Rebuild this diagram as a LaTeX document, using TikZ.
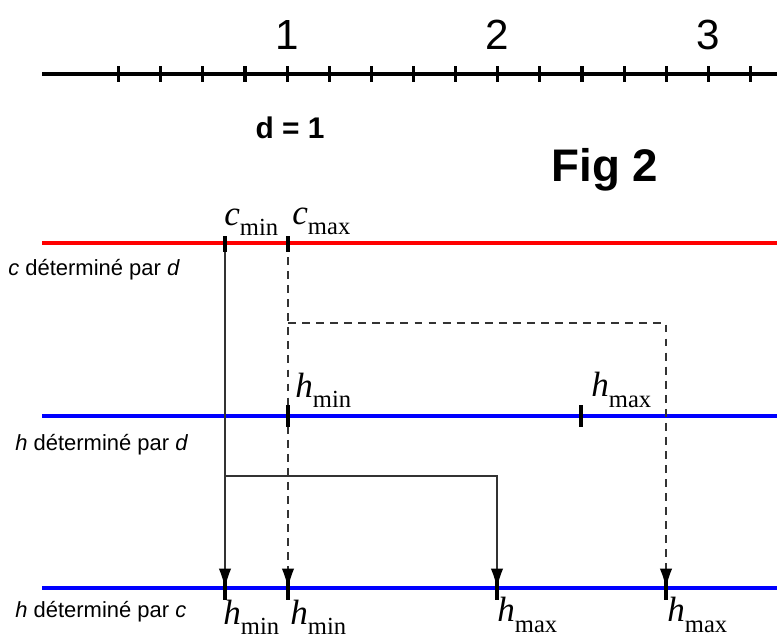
\documentclass[tikz,border=0pt]{standalone}
\usepackage{fontspec}
\setmainfont{Liberation Sans}
\newfontfamily\tms{Liberation Serif}
\usepackage{tikz}
\usetikzlibrary{calc, arrows.meta}

\newcommand{\sublbl}[2]{{\tms\itshape #1}\raisebox{-0.55ex}{\tms\fontsize{14}{15}\selectfont #2}}

\tikzset{
  axe/.style={line width=2.1pt},
  tick/.style={line width=1.8pt},
  link/.style={draw=black!80, line width=0.7pt, -{Latex[length=11pt,width=7pt,black]}},
  dlink/.style={link, dash pattern=on 4.5pt off 3.5pt},
  lbl/.style={inner sep=0pt, font=\fontsize{12.5}{14}\selectfont, anchor=west},
  mlbl/.style={inner sep=0pt, font=\fontsize{20}{22}\selectfont, anchor=west}
}

\begin{document}
\begin{tikzpicture}[x=0.02cm, y=-0.02cm]
\useasboundingbox (0,0) rectangle (777,639);
% Axe du haut
\draw[axe] (42,74) -- (777,74);
\foreach \i in {0,...,15}
  \draw[tick] ({118.6+42.13*\i},66) -- ({118.6+42.13*\i},82);
\node[inner sep=0pt, font=\fontsize{24}{26}\selectfont] (un) at (287,35) {1};
\node[inner sep=0pt, font=\fontsize{24}{26}\selectfont] (deux) at (497,35) {2};
\node[inner sep=0pt, font=\fontsize{24}{26}\selectfont] (trois) at (708,35) {3};
\node[inner sep=0pt, font=\fontsize{17}{19}\selectfont\bfseries] (dval) at (290,128) {d = 1};
\node[inner sep=0pt, font=\fontsize{26}{28}\selectfont\bfseries] (fig) at (605,170) {Fig 2};
% Lignes
\draw[red, axe] (42,243) -- (777,243);
\draw[blue, axe] (42,416) -- (777,416);
\draw[blue, axe] (42,588) -- (777,588);
% Points
\coordinate (cmin) at (225,243);
\coordinate (cmax) at (288,243);
\coordinate (hmind) at (288,416);
\coordinate (hmaxd) at (581,416);
\coordinate (hminca) at (225,588);
\coordinate (hmincb) at (288,588);
\coordinate (hmaxca) at (497,588);
\coordinate (hmaxcb) at (666,588);
\coordinate (bend) at (225,476);
\coordinate (dbend) at (288,323);
% Liens
\draw[link] (cmin) -- (hminca);
\draw[link] (bend) -| (hmaxca);
\draw[dlink] (cmax) -- (hmincb);
\draw[dlink] (dbend) -| (hmaxcb);
% Graduations
\foreach \p in {cmin,cmax}
  \draw[tick] ($(\p)+(0,-7)$) -- ($(\p)+(0,9)$);
\foreach \p in {hmind,hmaxd}
  \draw[tick] ($(\p)+(0,-11)$) -- ($(\p)+(0,11)$);
\foreach \p in {hminca,hmincb,hmaxca,hmaxcb}
  \draw[tick] ($(\p)+(0,-10)$) -- ($(\p)+(0,12)$);
% Rotules
\node[mlbl] (lcmin) at (224,222) {\sublbl{c}{min}};
\node[mlbl] (lcmax) at (292,221) {\sublbl{c}{max}};
\node[mlbl] (lhmind) at (295,390) {\sublbl{h}{min}};
\node[mlbl] (lhmaxd) at (591,390) {\sublbl{h}{max}};
\node[mlbl] (lhminca) at (223,617) {\sublbl{h}{min}};
\node[mlbl] (lhmincb) at (290,617) {\sublbl{h}{min}};
\node[mlbl] (lhmaxca) at (497,615) {\sublbl{h}{max}};
\node[mlbl] (lhmaxcb) at (667,615) {\sublbl{h}{max}};
\node[lbl] (tc) at (8,270) {\textit{c} déterminé par \textit{d}};
\node[lbl] (thd) at (15,445) {\textit{h} déterminé par \textit{d}};
\node[lbl] (thc) at (15,612) {\textit{h} déterminé par \textit{c}};
\end{tikzpicture}
\end{document}
